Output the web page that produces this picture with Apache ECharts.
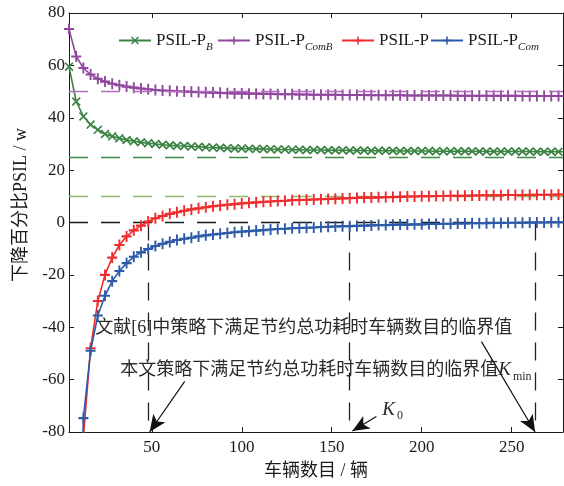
<!DOCTYPE html>
<html>
<head>
<meta charset="utf-8">
<script src="https://cdn.jsdelivr.net/npm/echarts@6.0.0/dist/echarts.min.js"></script>
<style>
  html, body { margin: 0; padding: 0; background: #fff; }
  #chart { width: 564px; height: 486px; }
</style>
</head>
<body>
<div id="chart"></div>
<script>
// 车辆数目 K
const kValues = [4, 8, 12, 16, 20, 24, 28, 32, 36, 40, 44, 48, 52, 56, 60, 64, 68, 72, 76, 80,
  84, 88, 92, 96, 100, 104, 108, 112, 116, 120, 124, 128, 132, 136, 140, 144, 148, 152, 156, 160,
  164, 168, 172, 176, 180, 184, 188, 192, 196, 200, 204, 208, 212, 216, 220, 224, 228, 232, 236, 240,
  244, 248, 252, 256, 260, 264, 268, 272, 276, 280];

// PSIL-P_B
const psilPB = [59.5, 46.2, 40.5, 37.4, 35.4, 33.8, 32.9, 32.2, 31.5, 31.0,
  30.6, 30.3, 30.0, 29.7, 29.5, 29.3, 29.2, 29.0, 28.9, 28.7,
  28.6, 28.5, 28.4, 28.3, 28.3, 28.2, 28.1, 28.1, 28.0, 27.9,
  27.9, 27.8, 27.8, 27.7, 27.7, 27.7, 27.6, 27.6, 27.6, 27.5,
  27.5, 27.5, 27.4, 27.4, 27.4, 27.4, 27.3, 27.3, 27.3, 27.3,
  27.3, 27.2, 27.2, 27.2, 27.2, 27.2, 27.2, 27.1, 27.1, 27.1,
  27.1, 27.1, 27.1, 27.1, 27.1, 27.0, 27.0, 27.0, 27.0, 27.0];

// PSIL-P_ComB
const psilPComB = [73.9, 63.4, 59.0, 56.5, 54.9, 53.8, 53.0, 52.4, 51.9, 51.5,
  51.2, 50.9, 50.6, 50.4, 50.3, 50.1, 50.0, 49.9, 49.8, 49.7,
  49.6, 49.5, 49.4, 49.3, 49.3, 49.2, 49.2, 49.1, 49.1, 49.0,
  49.0, 49.0, 48.9, 48.9, 48.8, 48.8, 48.8, 48.8, 48.7, 48.7,
  48.7, 48.7, 48.6, 48.6, 48.6, 48.6, 48.6, 48.5, 48.5, 48.5,
  48.5, 48.5, 48.5, 48.5, 48.4, 48.4, 48.4, 48.4, 48.4, 48.4,
  48.4, 48.4, 48.4, 48.3, 48.3, 48.3, 48.3, 48.3, 48.3, 48.3];

// PSIL-P
const psilP = [null, -200, -82, -48, -30, -20, -13.4, -8.6, -5.3, -3.0,
  -1.2, 0.4, 1.6, 2.5, 3.3, 3.9, 4.5, 5.0, 5.4, 5.8,
  6.2, 6.5, 6.8, 7.0, 7.3, 7.5, 7.7, 7.9, 8.0, 8.2,
  8.3, 8.5, 8.6, 8.7, 8.8, 8.9, 9.0, 9.1, 9.2, 9.3,
  9.4, 9.5, 9.5, 9.6, 9.7, 9.7, 9.8, 9.9, 9.9, 10.0,
  10.0, 10.1, 10.1, 10.2, 10.2, 10.2, 10.3, 10.3, 10.4, 10.4,
  10.4, 10.5, 10.5, 10.5, 10.6, 10.6, 10.6, 10.6, 10.7, 10.7];

// PSIL-P_Com
const psilPCom = [null, -170, -74.7, -49, -35.5, -28, -22.4, -18.5, -15.5, -13.1,
  -11.4, -10.1, -9.0, -8.1, -7.4, -6.7, -6.2, -5.8, -5.3, -4.9,
  -4.6, -4.3, -4.0, -3.7, -3.5, -3.3, -3.1, -2.9, -2.7, -2.5,
  -2.4, -2.2, -2.1, -2.0, -1.9, -1.7, -1.6, -1.5, -1.4, -1.4,
  -1.3, -1.2, -1.1, -1.0, -1.0, -0.9, -0.8, -0.8, -0.7, -0.7,
  -0.6, -0.6, -0.5, -0.5, -0.4, -0.4, -0.3, -0.3, -0.3, -0.2,
  -0.2, -0.1, -0.1, -0.1, 0.0, 0.0, 0.0, 0.1, 0.1, 0.1];

const seriesNames = ['PSIL-PB', 'PSIL-PComB', 'PSIL-P', 'PSIL-PCom'];
const legendLabels = ['{n|PSIL-P}{s|B}', '{n|PSIL-P}{s|ComB}', '{n|PSIL-P}', '{n|PSIL-P}{s|Com}'];
const xTickValues = [50, 100, 150, 200, 250];
const refLevels = [50, 25, 10, 0];         // 水平虚线
const criticalK = [48, 160, 263];          // 竖直虚线

const SERIF = "'Liberation Serif', 'Noto Sans CJK SC', serif";
const INK = '#1a1a1a';
const colors = ['#3a8343', '#92479f', '#ef2b2d', '#2c5aa8'];
const refColors = ['#b46cc0', '#3d8b45', '#93ba66', '#1a1a1a'];

const PLUS = 'path://M0,4.05H10V5.95H0Z M4.05,0H5.95V10H4.05Z';
const CROSS = 'path://M0,1.3L1.3,0L10,8.7L8.7,10Z M8.7,0L10,1.3L1.3,10L0,8.7Z';

function pairs(ys) {
  return kValues.map(function (k, i) { return [k, ys[i]]; });
}

const allData = [psilPB, psilPComB, psilP, psilPCom];
const symbols = [CROSS, PLUS, PLUS, PLUS];

let series = [];
for (let i = 0; i < 4; i++) {
  series.push({
    name: seriesNames[i],
    type: 'line',
    data: pairs(allData[i]),
    symbol: symbols[i],
    symbolSize: i == 0 ? 9 : [10, 11],
    showAllSymbol: true,
    clip: true,
    color: colors[i],
    lineStyle: { width: 1.6, color: colors[i] },
    itemStyle: { color: colors[i] },
    z: 3 + i
  });
}

const dash = [19, 13];
let markLines = [];
for (let i = 0; i < refLevels.length; i++) {
  markLines.push({ yAxis: refLevels[i], lineStyle: { color: refColors[i], type: dash, width: 1.3 } });
}
for (let i = 0; i < criticalK.length; i++) {
  let ls = { color: '#222', type: [18, 12], width: 1.3 };
  markLines.push([{ coord: [criticalK[i], 0], lineStyle: ls }, { coord: [criticalK[i], -80], lineStyle: ls }]);
}
// 箭头
const arrowLs = { color: '#111', type: 'solid', width: 1.2 };
const arrows = [
  [[233.2, -45.5], [263, -80]],
  [[68.3, -60.7], [48.8, -80]],
  [[174.8, -74.1], [161.5, -79.6]]
];
arrows.forEach(function (a) {
  markLines.push([
    { coord: a[0], symbol: 'none', lineStyle: arrowLs },
    { coord: a[1], symbol: 'arrow', lineStyle: arrowLs }
  ]);
});

series.push({
  name: 'annot',
  type: 'line',
  data: [],
  z: 2,
  markLine: {
    silent: true,
    animation: false,
    symbol: ['none', 'none'],
    symbolSize: [11, 17],
    label: { show: false },
    data: markLines
  },
  markPoint: {
    silent: true,
    animation: false,
    symbol: 'circle',
    symbolSize: 1,
    itemStyle: { color: 'rgba(0,0,0,0)' },
    label: {
      show: true,
      position: 'right',
      distance: 0,
      color: '#2a2a2a',
      fontSize: 18,
      fontFamily: SERIF,
      rich: {
        k: { fontSize: 19, fontStyle: 'italic', fontFamily: 'Liberation Serif', color: '#2a2a2a' },
        m: { fontSize: 12, fontFamily: 'Liberation Serif', color: '#2a2a2a', padding: [12, 0, 0, 2] }
      }
    },
    data: [
      { coord: [18.3, -40.2], label: { formatter: '文献[6]中策略下满足节约总功耗时车辆数目的临界值' } },
      { coord: [32.2, -56.5], label: { formatter: '本文策略下满足节约总功耗时车辆数目的临界值{k|K}{m|min}' } },
      { coord: [177.8, -71.5], label: { formatter: '{k|K}{m|0}' } }
    ]
  }
});

const legendLeft = [118, 217, 341, 430];
let legends = [];
for (let i = 0; i < 4; i++) {
  legends.push({
    data: [seriesNames[i]],
    left: legendLeft[i],
    top: 32,
    padding: 0,
    itemWidth: 32,
    itemHeight: 10,
    selectedMode: false,
    formatter: function () { return legendLabels[i]; },
    textStyle: {
      color: INK,
      fontFamily: SERIF,
      fontSize: 17,
      rich: {
        n: { fontSize: 17, fontFamily: SERIF, color: INK },
        s: { fontSize: 11, fontStyle: 'italic', fontFamily: SERIF, color: INK, padding: [14, 0, 0, 0] }
      }
    }
  });
}

const axisLs = { color: INK, width: 1 };

const option = {
  animation: false,
  backgroundColor: '#fff',
  grid: { left: 69, right: 1, top: 13, bottom: 54, containLabel: false, outerBoundsMode: 'none' },
  legend: legends,
  xAxis: [
    {
      type: 'value', min: 4, max: 278.5, position: 'bottom',
      axisLine: { show: true, onZero: false, lineStyle: axisLs },
      axisTick: { show: true, inside: true, length: 5, customValues: xTickValues, lineStyle: axisLs },
      axisLabel: { customValues: xTickValues, margin: 7, fontSize: 17, fontFamily: SERIF, color: INK },
      splitLine: { show: false },
      name: '车辆数目 / 辆', nameLocation: 'middle', nameGap: 30,
      nameTextStyle: { fontSize: 18, fontFamily: SERIF, color: INK }
    },
    {
      type: 'value', min: 4, max: 278.5, position: 'top',
      axisLine: { show: true, onZero: false, lineStyle: axisLs },
      axisTick: { show: true, inside: true, length: 5, customValues: xTickValues, lineStyle: axisLs },
      axisLabel: { show: false },
      splitLine: { show: false }
    }
  ],
  yAxis: [
    {
      type: 'value', min: -80, max: 80, interval: 20, position: 'left',
      axisLine: { show: true, onZero: false, lineStyle: axisLs },
      axisTick: { show: true, inside: true, length: 5, lineStyle: axisLs },
      axisLabel: { margin: 4, fontSize: 17, fontFamily: SERIF, color: INK },
      splitLine: { show: false }
    },
    {
      type: 'value', min: -80, max: 80, interval: 20, position: 'right',
      axisLine: { show: true, onZero: false, lineStyle: axisLs },
      axisTick: { show: true, inside: true, length: 5, lineStyle: axisLs },
      axisLabel: { show: false },
      splitLine: { show: false }
    }
  ],
  graphic: [{
    type: 'text',
    x: 21,
    y: 205,
    rotation: Math.PI / 2,
    style: {
      text: '下降百分比PSIL / w',
      fontSize: 18,
      fontFamily: SERIF,
      fill: INK,
      align: 'center',
      verticalAlign: 'middle'
    }
  }],
  series: series
};

let myChart = echarts.init(document.getElementById('chart'), null, { renderer: 'canvas' });
myChart.setOption(option);
</script>
</body>
</html>
